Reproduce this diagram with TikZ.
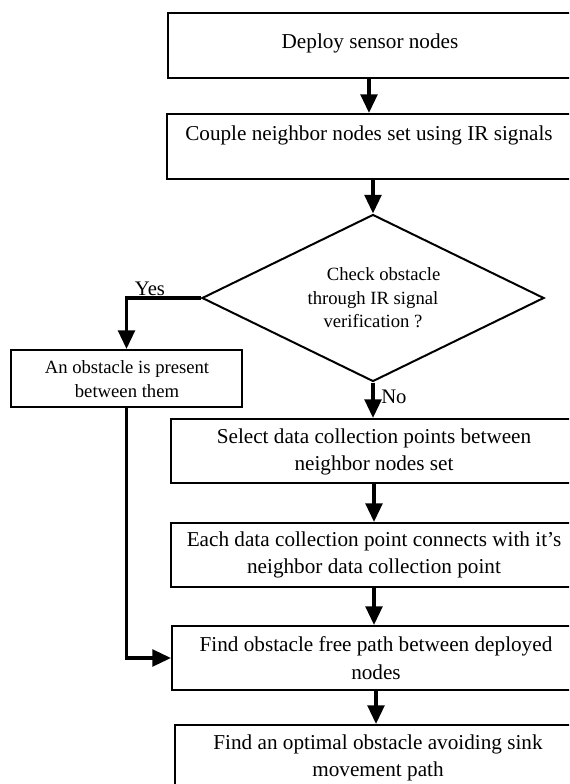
\documentclass[tikz,border=0pt]{standalone}
\usepackage{fontspec}
\setmainfont{Liberation Serif}
\usetikzlibrary{shapes.geometric,arrows.meta,fit}
\begin{document}
\begin{tikzpicture}[x=0.75pt,y=-0.75pt,
  boxst/.style={draw,line width=1.5pt,inner sep=0pt},
  txt/.style={align=center,font=\fontsize{15.9}{20.8}\selectfont,inner sep=0pt},
  smalltxt/.style={align=center,font=\fontsize{14}{18}\selectfont,inner sep=0pt},
  dec/.style={draw,diamond,shape aspect=2.05,line width=1.5pt,inner sep=0pt,minimum width=256.5pt,minimum height=125.25pt,align=center,font=\fontsize{14}{17.6}\selectfont},
  conn/.style={line width=2.6pt,-{Triangle[length=14pt,width=12.5pt]}},
  lab/.style={font=\fontsize{15.5}{17}\selectfont,inner sep=0pt}]
\useasboundingbox (0,0) rectangle (569,784);
\clip (0,0) rectangle (569,784);
% boxes
\node[boxst,fit={(168,13)(640,78)}] (b1) {};
\node[boxst,fit={(167,114)(640,179)}] (b2) {};
\node[dec] (d) at (373,298) {\hspace*{16pt}Check obstacle\\through IR signal\\verification ?};
\node[boxst,fit={(11,350)(242,407)}] (bo) {};
\node[boxst,fit={(171,419)(640,483)}] (b3) {};
\node[boxst,fit={(171,523)(640,587)}] (b4) {};
\node[boxst,fit={(172,626)(640,690)}] (b5) {};
\node[boxst,fit={(175,725)(640,830)}] (b6) {};
% texts
\node[txt] (t1) at (370,43) {Deploy sensor nodes};
\node[txt] (t2) at (369,135) {Couple neighbor nodes set using IR signals};
\node[smalltxt] (to) at (127,379) {An obstacle is present\\between them};
\node[txt] (t3) at (374,452) {Select data collection points between\\neighbor nodes set};
\node[txt] (t4) at (374,555) {Each data collection point connects with it’s\\neighbor data collection point};
\node[txt] (t5) at (376,658) {Find obstacle free path between deployed\\nodes};
\node[txt] (t6) at (378,758) {Find an optimal obstacle avoiding sink\\movement path};
\node[lab] (yes) at (150,289) {Yes};
\node[lab,anchor=west] (no) at (381,397) {No};
% connectors
\draw[conn] (b1.south -| t2) -- (b2.north -| t2);
\draw[conn] (b2.south -| d) -- (d.north);
\draw[conn] (d.south) -- (b3.north -| d);
\draw[conn] (b3.south -| t4) -- (b4.north -| t4);
\draw[conn] (b4.south -| t3) -- (b5.north -| t3);
\draw[conn] (b5.south -| t5) -- (b6.north -| t5);
\draw[conn] (d.west) -| (bo.north);
\draw[conn] (bo.south) |- (b5.west);
\end{tikzpicture}
\end{document}
